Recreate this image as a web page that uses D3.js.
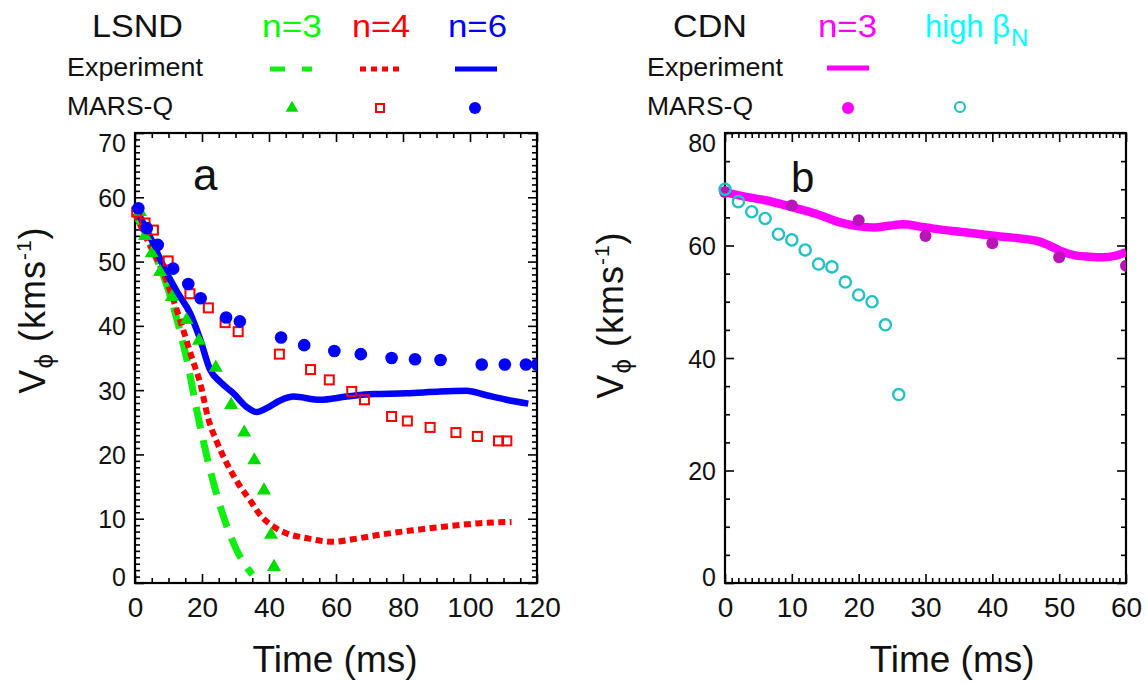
<!DOCTYPE html>
<html>
<head>
<meta charset="utf-8">
<script src="https://cdn.jsdelivr.net/npm/d3@7"></script>
<style>
  html, body { margin: 0; padding: 0; background: #fff; }
  svg { display: block; font-family: "Liberation Sans", Arial, Helvetica, sans-serif; }
</style>
</head>
<body>
<svg id="chart" width="1147" height="684"></svg>
<script>
// ---------------- DATA ----------------
// Panel a (LSND)
const lsndN3ExpTime = [0, 2, 4, 6, 8, 10, 12, 14, 16, 18, 20, 22, 24, 26, 28, 30, 32, 34, 35];
const lsndN3ExpV    = [57.5, 55.5, 53.5, 51, 48.5, 45.5, 42, 38, 33.5, 28, 23, 18.5, 14.5, 11, 8, 5.5, 3.5, 2, 1.3];

const lsndN4ExpTime = [0, 4, 8.5, 13.4, 17, 19.5, 21.9, 24.4, 27.9, 30.8, 34.3, 37.8, 41.3, 45.3, 50, 59.2, 65, 73, 83, 93, 103, 112.4];
const lsndN4ExpV    = [57.5, 53, 48.2, 41, 35, 31, 25.5, 22, 18.1, 15.5, 12.9, 10.3, 8.8, 7.7, 7.1, 6.4, 6.8, 7.5, 8.2, 8.8, 9.3, 9.5];

const lsndN6ExpTime = [0, 5, 9, 12.9, 16.4, 19.4, 22.4, 25.4, 29.4, 33.3, 36.3, 39.3, 43.3, 47.3, 55.2, 63.2, 71.1, 81, 91, 99, 104.9, 110.9, 117.4];
const lsndN6ExpV    = [58.5, 53.3, 48.7, 45.0, 42.0, 38.0, 33.2, 31.3, 29.5, 27.4, 26.6, 27.2, 28.4, 29.0, 28.5, 29.0, 29.4, 29.5, 29.8, 29.9, 29.2, 28.5, 27.9];

const lsndN3MarsTime = [1.5, 3, 5, 7.5, 11, 15.4, 19.1, 24.1, 28.7, 32.6, 35.6, 38.5, 40.6, 41.5];
const lsndN3MarsV    = [57.7, 54, 51.3, 48.4, 44.5, 40.9, 37.7, 33.5, 27.7, 23.4, 19.1, 14.4, 7.5, 2.5];

const lsndN4MarsTime = [0.5, 3, 5.5, 9.9, 16.4, 21.9, 26.9, 30.8, 43.1, 52.4, 58.0, 64.7, 68.5, 76.6, 81.3, 88.1, 95.8, 102.2, 108.5, 111];
const lsndN4MarsV    = [57.7, 56, 54.9, 50.1, 45.0, 42.8, 40.5, 39.1, 35.6, 33.2, 31.6, 29.8, 28.5, 25.9, 25.2, 24.2, 23.4, 22.8, 22.1, 22.1];

const lsndN6MarsTime = [1, 3.5, 6.8, 11.4, 15.9, 19.6, 27.2, 31.3, 43.6, 50.5, 59.5, 67.4, 76.6, 83.6, 91.2, 103.5, 110.4, 116.7, 120];
const lsndN6MarsV    = [58.3, 55.2, 52.6, 48.9, 46.5, 44.3, 41.3, 40.7, 38.2, 37.0, 36.1, 35.6, 35.0, 34.8, 34.7, 34.0, 34.0, 34.0, 34.0];

// Panel b (CDN)
const cdnExpTime = [0, 3, 6.2, 9.8, 13.7, 17.2, 20, 22.2, 24.5, 26.7, 29, 31.2, 36.2, 41.2, 46.7, 48.5, 50.1, 52.6, 54.5, 56.6, 58.5, 60];
const cdnExpV    = [69.5, 68.7, 68.0, 66.9, 65.6, 64.1, 63.4, 63.2, 63.5, 63.8, 63.4, 63.0, 62.3, 61.6, 60.8, 60.0, 59.1, 58.2, 58.0, 57.9, 58.2, 58.8];

const cdnMarsTime = [0, 10, 20, 30, 40, 50, 60];
const cdnMarsV    = [69.5, 67.1, 64.5, 61.7, 60.4, 57.9, 56.4];

const highBetaMarsTime = [0, 2, 4, 6, 8, 10, 12, 14, 16, 18, 20, 22, 24, 26];
const highBetaMarsV    = [70, 67.8, 66, 64.8, 62, 61, 59.2, 56.7, 56.2, 53.5, 51.2, 50, 45.9, 33.5];

// Axis ticks
const aXMajor = [0, 20, 40, 60, 80, 100, 120];
const aYMajor = [0, 10, 20, 30, 40, 50, 60, 70];
const bXMajor = [0, 10, 20, 30, 40, 50, 60];
const bYMajor = [0, 20, 40, 60, 80];

// ---------------- DRAW ----------------
const svg = d3.select("#chart");
const zip = (t, v) => t.map((d, i) => ({ t: d, v: v[i] }));

const C = {
  green: "#11ee11", greenText: "#00ff00", greenMark: "#00dd00",
  red: "#ff0000", blue: "#0000ff",
  magenta: "#ff00ff", magentaDot: "#b814b8",
  cyanText: "#00ffff", cyanMark: "#1fc3c3"
};

function ticksAndFrame(g, x, y, xMajor, xMinorStep, yMajor, yMinorStep, idPrefix) {
  const [x0, x1] = x.range();
  const [y0, y1] = y.range();
  const xd = x.domain(), yd = y.domain();
  const xMinor = d3.range(xd[0], xd[1] + 1e-9, xMinorStep).filter(v => !xMajor.includes(v));
  const yMinor = d3.range(yd[0], yd[1] + 1e-9, yMinorStep).filter(v => !yMajor.includes(v));
  const majLen = 9, minLen = 5;
  const strip = s => s.select(".domain").remove();
  const style = s => s.selectAll("line").attr("stroke", "#000").attr("stroke-width", 1.6);

  [[y0, d3.axisBottom], [y1, d3.axisTop]].forEach(([pos, ax]) => {
    g.append("g").attr("transform", `translate(0,${pos})`)
      .call(ax(x).tickValues(xMinor).tickSize(-minLen).tickFormat("")).call(strip).call(style);
    g.append("g").attr("transform", `translate(0,${pos})`)
      .call(ax(x).tickValues(xMajor).tickSize(-majLen).tickFormat("")).call(strip).call(style);
  });
  [[x0, d3.axisLeft], [x1, d3.axisRight]].forEach(([pos, ax]) => {
    g.append("g").attr("transform", `translate(${pos},0)`)
      .call(ax(y).tickValues(yMinor).tickSize(-minLen).tickFormat("")).call(strip).call(style);
    g.append("g").attr("transform", `translate(${pos},0)`)
      .call(ax(y).tickValues(yMajor).tickSize(-majLen).tickFormat("")).call(strip).call(style);
  });

  const xl = g.append("g").attr("transform", `translate(0,${y0})`)
    .call(d3.axisBottom(x).tickValues(xMajor).tickSize(0).tickFormat(d3.format("d")));
  xl.select(".domain").remove();
  xl.selectAll("text").attr("y", 34).attr("dy", null)
    .attr("font-size", 28).attr("font-family", "Liberation Sans, Arial, sans-serif").attr("fill", "#111");

  const yl = g.append("g").attr("transform", `translate(${x0},0)`)
    .call(d3.axisLeft(y).tickValues(yMajor).tickSize(0).tickPadding(9).tickFormat(d3.format("d")));
  yl.select(".domain").remove();
  yl.selectAll("text").attr("font-size", 25).attr("dy", "0.36em")
    .attr("font-family", "Liberation Sans, Arial, sans-serif").attr("fill", "#111");
  const ymax = d3.max(yMajor), ymin = d3.min(yMajor);
  yl.selectAll(".tick").filter(d => d === ymax).select("text").attr("transform", "translate(0,9)");
  yl.selectAll(".tick").filter(d => d === ymin).select("text").attr("transform", "translate(0,-7)");

  g.append("rect").attr("x", x0).attr("y", y1).attr("width", x1 - x0).attr("height", y0 - y1)
    .attr("fill", "none").attr("stroke", "#000").attr("stroke-width", 2.2);

  svg.append("defs").append("clipPath").attr("id", idPrefix + "clip")
    .append("rect").attr("x", x0 - 20).attr("y", y1 - 20).attr("width", x1 - x0 + 20).attr("height", y0 - y1 + 40);
}

function yLabel(g, bx, cy) {
  const t = g.append("text")
    .attr("transform", `translate(${bx},${cy}) rotate(-90)`)
    .attr("text-anchor", "middle").attr("font-size", 36).attr("fill", "#111")
    .attr("letter-spacing", 1);
  t.append("tspan").text("V");
  t.append("tspan").attr("font-size", 26).attr("dy", 8).text("\u03D5");
  t.append("tspan").attr("dy", -8).text(" (kms");
  t.append("tspan").attr("font-size", 21).attr("dy", -14).text("-1");
  t.append("tspan").attr("dy", 14).text(")");
}

function xLabel(g, cx) {
  g.append("text").attr("x", cx).attr("y", 672).attr("text-anchor", "middle")
    .attr("font-size", 37).attr("fill", "#111").text("Time (ms)");
}

// ---- Panel a ----
const xa = d3.scaleLinear().domain([0, 120]).range([135, 537]);
const ya = d3.scaleLinear().domain([0, 70]).range([583, 133]);
const ga = svg.append("g");
ticksAndFrame(ga, xa, ya, aXMajor, 5, aYMajor, 1, "a");
const pa = ga.append("g").attr("clip-path", "url(#aclip)");
const lineA = d3.line().x(d => xa(d.t)).y(d => ya(d.v)).curve(d3.curveMonotoneX);

pa.append("path").datum(zip(lsndN3ExpTime, lsndN3ExpV)).attr("d", lineA)
  .attr("fill", "none").attr("stroke", C.green).attr("stroke-width", 7).attr("stroke-dasharray", "22,12");
pa.append("path").datum(zip(lsndN4ExpTime, lsndN4ExpV)).attr("d", lineA)
  .attr("fill", "none").attr("stroke", C.red).attr("stroke-width", 6).attr("stroke-dasharray", "7,4.5");
pa.append("path").datum(zip(lsndN6ExpTime, lsndN6ExpV)).attr("d", lineA)
  .attr("fill", "none").attr("stroke", C.blue).attr("stroke-width", 6.5).attr("stroke-linejoin", "round");

pa.selectAll(".tri").data(zip(lsndN3MarsTime, lsndN3MarsV)).join("path")
  .attr("transform", d => `translate(${xa(d.t)},${ya(d.v)})`)
  .attr("d", d3.symbol(d3.symbolTriangle, 85)).attr("fill", C.greenMark);
pa.selectAll(".sq").data(zip(lsndN4MarsTime, lsndN4MarsV)).join("rect")
  .attr("x", d => xa(d.t) - 4.5).attr("y", d => ya(d.v) - 4.5).attr("width", 9).attr("height", 9)
  .attr("fill", "none").attr("stroke", C.red).attr("stroke-width", 2);
pa.selectAll(".dotb").data(zip(lsndN6MarsTime, lsndN6MarsV)).join("circle")
  .attr("cx", d => xa(d.t)).attr("cy", d => ya(d.v)).attr("r", 6.3).attr("fill", C.blue);

ga.append("text").attr("x", 193).attr("y", 190).attr("font-size", 44).attr("fill", "#111").text("a");
yLabel(ga, 45, 310);
xLabel(ga, 335);

// ---- Panel b ----
const xb = d3.scaleLinear().domain([0, 60]).range([725, 1126]);
const yb = d3.scaleLinear().domain([0, 80]).range([583, 133]);
const gb = svg.append("g");
ticksAndFrame(gb, xb, yb, bXMajor, 1, bYMajor, 5, "b");
const pb = gb.append("g").attr("clip-path", "url(#bclip)");
const lineB = d3.line().x(d => xb(d.t)).y(d => yb(d.v)).curve(d3.curveMonotoneX);

pb.append("path").datum(zip(cdnExpTime, cdnExpV)).attr("d", lineB)
  .attr("fill", "none").attr("stroke", C.magenta).attr("stroke-width", 8.5).attr("stroke-linejoin", "round");
pb.selectAll(".dotm").data(zip(cdnMarsTime, cdnMarsV)).join("circle")
  .attr("cx", d => xb(d.t)).attr("cy", d => yb(d.v)).attr("r", 6).attr("fill", C.magentaDot);
pb.selectAll(".circ").data(zip(highBetaMarsTime, highBetaMarsV)).join("circle")
  .attr("cx", d => xb(d.t)).attr("cy", d => yb(d.v)).attr("r", 5.6)
  .attr("fill", "none").attr("stroke", C.cyanMark).attr("stroke-width", 2.4);

gb.append("text").attr("x", 791).attr("y", 192).attr("font-size", 42).attr("fill", "#111").text("b");
yLabel(gb, 623, 315);
xLabel(gb, 952);

// ---------------- LEGENDS ----------------
const lg = svg.append("g").attr("fill", "#111");
function ltext(x, y, size, txt, len, color) {
  return lg.append("text").attr("x", x).attr("y", y).attr("font-size", size)
    .attr("fill", color || "#111").attr("textLength", len).attr("lengthAdjust", "spacingAndGlyphs").text(txt);
}
ltext(92, 37, 31, "LSND", 91);
ltext(262, 37, 31, "n=3", 60, C.greenText);
ltext(352, 37, 31, "n=4", 58, C.red);
ltext(448, 37, 31, "n=6", 59, C.blue);
ltext(67, 76, 25, "Experiment", 136);
ltext(67, 115, 25, "MARS-Q", 106);
lg.append("line").attr("x1", 270).attr("x2", 312).attr("y1", 69).attr("y2", 69)
  .attr("stroke", C.green).attr("stroke-width", 5).attr("stroke-dasharray", "15,17");
lg.append("line").attr("x1", 360).attr("x2", 400).attr("y1", 69).attr("y2", 69)
  .attr("stroke", C.red).attr("stroke-width", 5).attr("stroke-dasharray", "6,5");
lg.append("line").attr("x1", 455).attr("x2", 497).attr("y1", 69).attr("y2", 69)
  .attr("stroke", C.blue).attr("stroke-width", 5);
lg.append("path").attr("transform", "translate(292,108)")
  .attr("d", d3.symbol(d3.symbolTriangle, 70)).attr("fill", C.greenMark);
lg.append("rect").attr("x", 376).attr("y", 104).attr("width", 8).attr("height", 8)
  .attr("fill", "none").attr("stroke", C.red).attr("stroke-width", 2);
lg.append("circle").attr("cx", 475).attr("cy", 108).attr("r", 6).attr("fill", C.blue);

ltext(673, 37, 31, "CDN", 74);
ltext(818, 37, 31, "n=3", 59, C.magenta);
const hb = lg.append("text").attr("x", 925).attr("y", 37).attr("font-size", 31).attr("fill", C.cyanText);
hb.append("tspan").text("high \u03B2");
hb.append("tspan").attr("font-size", 24).attr("dy", 9).attr("dx", 1).text("N");
ltext(647, 76, 25, "Experiment", 136);
ltext(647, 115, 25, "MARS-Q", 106);
lg.append("line").attr("x1", 827).attr("x2", 869).attr("y1", 68).attr("y2", 68)
  .attr("stroke", C.magenta).attr("stroke-width", 5);
lg.append("circle").attr("cx", 848).attr("cy", 108).attr("r", 6).attr("fill", C.magenta);
lg.append("circle").attr("cx", 960).attr("cy", 107).attr("r", 5).attr("fill", "none")
  .attr("stroke", C.cyanMark).attr("stroke-width", 2.2);
</script>
</body>
</html>
